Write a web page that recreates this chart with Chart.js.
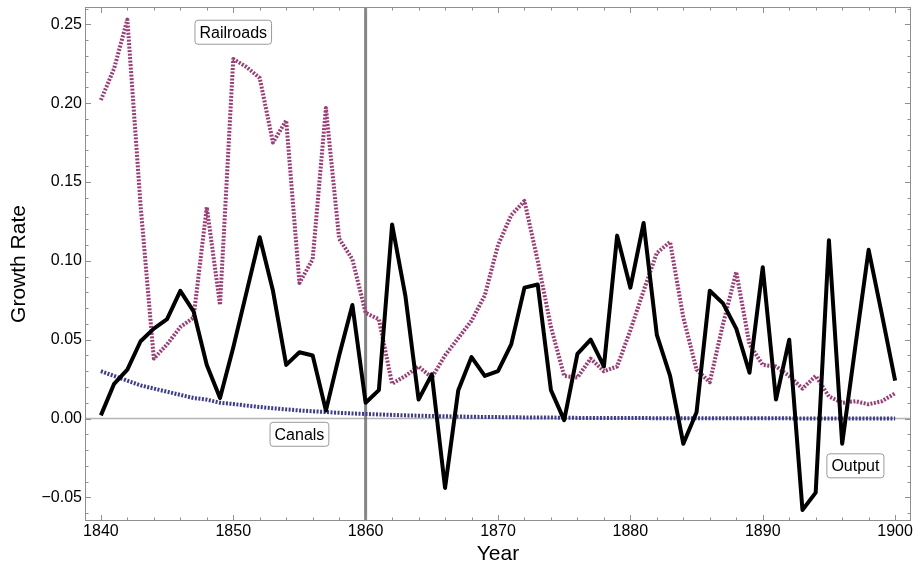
<!DOCTYPE html>
<html>
<head>
<meta charset="utf-8">
<script src="https://cdn.jsdelivr.net/npm/chart.js@4/dist/chart.umd.min.js"></script>
<style>
  body { margin: 0; background: #fff; }
  canvas { display: block; }
</style>
</head>
<body>
<canvas id="growthChart" width="916" height="569"></canvas>
<script>
/* =====================================================
   DATA
===================================================== */

const years = [
  1840,1841,1842,1843,1844,1845,1846,1847,1848,1849,
  1850,1851,1852,1853,1854,1855,1856,1857,1858,1859,
  1860,1861,1862,1863,1864,1865,1866,1867,1868,1869,
  1870,1871,1872,1873,1874,1875,1876,1877,1878,1879,
  1880,1881,1882,1883,1884,1885,1886,1887,1888,1889,
  1890,1891,1892,1893,1894,1895,1896,1897,1898,1899,
  1900
];

const outputGrowth = [
  0.002,0.022,0.031,0.049,0.057,0.063,0.081,0.068,0.034,0.013,
  0.045,0.080,0.115,0.081,0.034,0.042,0.040,0.005,0.040,0.072,
  0.010,0.018,0.123,0.078,0.012,0.028,-0.044,0.018,0.039,0.027,
  0.030,0.047,0.083,0.085,0.018,-0.001,0.041,0.050,0.033,0.116,
  0.083,0.124,0.053,0.027,-0.016,0.004,0.081,0.073,0.057,0.029,
  0.096,0.012,0.050,-0.058,-0.047,0.113,-0.016,0.046,0.107,0.066,
  0.024
];

const railroadGrowth = [
  0.202,0.222,0.253,0.135,0.038,0.047,0.058,0.064,0.134,0.072,
  0.228,0.223,0.216,0.175,0.189,0.086,0.101,0.197,0.114,0.101,
  0.067,0.063,0.022,0.027,0.033,0.026,0.040,0.051,0.062,0.078,
  0.110,0.129,0.138,0.100,0.058,0.027,0.026,0.038,0.030,0.033,
  0.056,0.081,0.105,0.112,0.064,0.031,0.023,0.060,0.093,0.047,
  0.034,0.033,0.027,0.019,0.027,0.014,0.010,0.011,0.009,0.011,
  0.016
];

const canalGrowth = [
  0.030,0.027,0.024,0.021,0.019,0.017,0.015,0.013,0.012,0.010,
  0.0092,0.0082,0.0073,0.0065,0.0058,0.0051,0.0046,0.0041,0.0036,0.0032,
  0.0029,0.0026,0.0023,0.0020,0.0018,0.0016,0.0014,0.0013,0.0011,0.0010,
  0.0009,0.0008,0.0007,0.0006,0.0006,0.0005,0.0004,0.0004,0.0004,0.0003,
  0.0003,0.0003,0.0002,0.0002,0.0002,0.0002,0.0001,0.0001,0.0001,0.0001,
  0.0001,0.0001,0.0001,0,0,0,0,0,0,0,
  0
];

const xTicks = [1840,1850,1860,1870,1880,1890,1900];
const yTicks = [-0.05,0,0.05,0.10,0.15,0.20,0.25];

const labelNames = ["Railroads","Canals","Output"];
const labelX = [1850,1855,1897];
const labelY = [0.245,-0.010,-0.030];

const markerYear = 1860;


/* =====================================================
   HELPERS
===================================================== */

function points(values){
  return years.map((year, i) => ({ x: year, y: values[i] }));
}

function formatY(value){
  const text = Math.abs(value).toFixed(2);
  return value < 0 ? "\u2212" + text : text;
}

const FONT = "'Liberation Sans', Arial, sans-serif";


/* =====================================================
   FRAME, TICKS, LINES & LABEL BOXES
===================================================== */

const framePlugin = {
  id: "frame",

  beforeDatasetsDraw(chart){
    const { ctx, chartArea: a, scales: { x, y } } = chart;
    ctx.save();

    // zero line
    ctx.strokeStyle = "#b4b4b4";
    ctx.lineWidth = 1.5;
    ctx.beginPath();
    ctx.moveTo(a.left, y.getPixelForValue(0));
    ctx.lineTo(a.right, y.getPixelForValue(0));
    ctx.stroke();

    // 1860 marker
    ctx.strokeStyle = "rgba(110,110,110,0.85)";
    ctx.lineWidth = 3;
    ctx.beginPath();
    ctx.moveTo(x.getPixelForValue(markerYear), a.top);
    ctx.lineTo(x.getPixelForValue(markerYear), a.bottom);
    ctx.stroke();

    // frame
    ctx.strokeStyle = "#8f8f8f";
    ctx.lineWidth = 1;
    ctx.strokeRect(a.left + 0.5, a.top + 0.5, a.right - a.left - 1, a.bottom - a.top - 1);

    // ticks
    ctx.strokeStyle = "#8f8f8f";
    for (let yr = 1840; yr <= 1900; yr += 2){
      const px = Math.round(x.getPixelForValue(yr)) + 0.5;
      const len = yr % 10 === 0 ? 6 : 3.5;
      ctx.beginPath();
      ctx.moveTo(px, a.bottom); ctx.lineTo(px, a.bottom - len);
      ctx.moveTo(px, a.top);    ctx.lineTo(px, a.top + len);
      ctx.stroke();
    }
    for (let k = -6; k <= 26; k++){
      const py = Math.round(y.getPixelForValue(k / 100)) + 0.5;
      const len = k % 5 === 0 ? 6 : 3.5;
      ctx.beginPath();
      ctx.moveTo(a.left, py);  ctx.lineTo(a.left + len, py);
      ctx.moveTo(a.right, py); ctx.lineTo(a.right - len, py);
      ctx.stroke();
    }

    ctx.restore();
  },

  afterDatasetsDraw(chart){
    const { ctx, scales: { x, y } } = chart;
    ctx.save();
    ctx.font = "16px " + FONT;
    ctx.textAlign = "center";
    ctx.textBaseline = "middle";

    labelNames.forEach((name, i) => {
      const cx = x.getPixelForValue(labelX[i]);
      const cy = y.getPixelForValue(labelY[i]);
      const w = ctx.measureText(name).width + 9;
      const h = 24;
      ctx.beginPath();
      ctx.roundRect(cx - w / 2, cy - h / 2, w, h, 3);
      ctx.fillStyle = "#ffffff";
      ctx.fill();
      ctx.strokeStyle = "#9a9a9a";
      ctx.lineWidth = 1;
      ctx.stroke();
      ctx.fillStyle = "#000000";
      ctx.fillText(name, cx, cy + 1);
    });

    ctx.restore();
  }
};


/* =====================================================
   CHART
===================================================== */

new Chart(document.getElementById("growthChart"), {
  type: "line",
  data: {
    datasets: [
      {
        label: "Output",
        data: points(outputGrowth),
        borderColor: "#000000",
        borderWidth: 4,
        pointRadius: 0,
        tension: 0,
        borderJoinStyle: "round"
      },
      {
        label: "Railroads",
        data: points(railroadGrowth),
        borderColor: "#9c3c76",
        borderWidth: 4,
        borderDash: [2, 1.5],
        borderJoinStyle: "round",
        pointRadius: 0,
        tension: 0
      },
      {
        label: "Canals",
        data: points(canalGrowth),
        borderColor: "#3c3c98",
        borderWidth: 4,
        borderDash: [2, 1.5],
        borderJoinStyle: "round",
        pointRadius: 0,
        tension: 0
      }
    ]
  },
  options: {
    responsive: false,
    animation: false,
    layout: { padding: { top: 7, right: 5, left: 0, bottom: 0 } },
    plugins: {
      legend: { display: false },
      tooltip: { enabled: false }
    },
    scales: {
      x: {
        type: "linear",
        min: 1838.8,
        max: 1901.2,
        afterBuildTicks: scale => { scale.ticks = xTicks.map(v => ({ value: v })); },
        afterFit: scale => {
          scale.height = 48;
          scale.paddingLeft = 0;
          scale.paddingRight = 0;
        },
        grid: { display: false, drawTicks: false },
        border: { display: false },
        ticks: {
          color: "#000",
          font: { family: FONT, size: 16 },
          padding: 1,
          maxRotation: 0,
          callback: v => String(v)
        },
        title: {
          display: true,
          text: "Year",
          color: "#000",
          font: { family: FONT, size: 21 },
          padding: { top: 0, bottom: 2 }
        }
      },
      y: {
        min: -0.065,
        max: 0.261,
        afterBuildTicks: scale => { scale.ticks = yTicks.map(v => ({ value: v })); },
        afterFit: scale => {
          scale.width = 85;
          scale.paddingTop = 0;
          scale.paddingBottom = 0;
        },
        grid: { display: false, drawTicks: false },
        border: { display: false },
        ticks: {
          color: "#000",
          font: { family: FONT, size: 16 },
          padding: 3,
          callback: v => formatY(v)
        },
        title: {
          display: true,
          text: "Growth Rate",
          color: "#000",
          font: { family: FONT, size: 21 },
          padding: { top: 7, bottom: 0 }
        }
      }
    }
  },
  plugins: [framePlugin]
});
</script>
</body>
</html>
